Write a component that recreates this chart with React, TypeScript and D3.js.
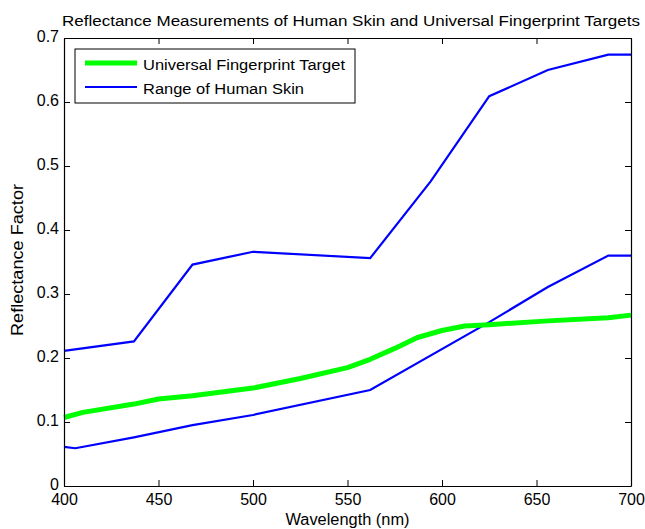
import React, {useEffect, useRef} from 'react'
import * as d3 from 'd3'

// wavelength (nm) vs reflectance
const targetNm = [400, 410, 437, 450, 468, 500, 525, 550, 562, 575, 587, 600, 612, 625, 656, 688, 700]
const targetVal = [0.107, 0.115, 0.128, 0.136, 0.141, 0.153, 0.168, 0.185, 0.198, 0.215, 0.232, 0.243, 0.25, 0.252, 0.258, 0.263, 0.267]

const skinHighNm = [400, 437, 468, 500, 562, 594, 625, 656, 688, 700]
const skinHighVal = [0.211, 0.226, 0.346, 0.366, 0.356, 0.476, 0.609, 0.65, 0.674, 0.674]

const skinLowNm = [400, 406, 437, 468, 500, 562, 625, 656, 688, 700]
const skinLowVal = [0.061, 0.059, 0.076, 0.095, 0.111, 0.15, 0.256, 0.311, 0.36, 0.36]

const xTicks = [400, 450, 500, 550, 600, 650, 700]
const yTicks = [0, 0.1, 0.2, 0.3, 0.4, 0.5, 0.6, 0.7]

const legendLabels = ['Universal Fingerprint Target', 'Range of Human Skin']

const W = 645
const H = 529
const margin = {top: 38, right: 14, bottom: 43, left: 64}
const FONT = '"Liberation Sans", Arial, sans-serif'

export default function App() {
  const svgRef = useRef<SVGSVGElement>(null)

  useEffect(() => {
    const svg = d3.select(svgRef.current)
    svg.selectAll('*').remove()

    const width = W - margin.left - margin.right
    const height = H - margin.top - margin.bottom

    const x = d3.scaleLinear().domain([400, 700]).range([0, width])
    const y = d3.scaleLinear().domain([0, 0.7]).range([height, 0])

    svg.append('rect').attr('width', W).attr('height', H).attr('fill', '#fff')

    const g = svg.append('g').attr('transform', `translate(${margin.left},${margin.top})`)

    const line = d3.line<[number, number]>()
      .x(d => x(d[0]))
      .y(d => y(d[1]))

    const zip = (a: number[], b: number[]) => a.map((v, i) => [v, b[i]] as [number, number])

    g.append('path').datum(zip(skinHighNm, skinHighVal))
      .attr('d', line).attr('fill', 'none').attr('stroke', '#0000ff').attr('stroke-width', 2.2)
    g.append('path').datum(zip(skinLowNm, skinLowVal))
      .attr('d', line).attr('fill', 'none').attr('stroke', '#0000ff').attr('stroke-width', 2.2)
    g.append('path').datum(zip(targetNm, targetVal))
      .attr('d', line).attr('fill', 'none').attr('stroke', '#00ff00').attr('stroke-width', 5)
      .attr('stroke-linejoin', 'round')

    // axes, matlab style: inward ticks on all sides
    const tk = 6
    const bottom = g.append('g').attr('transform', `translate(0,${height})`)
      .call(d3.axisBottom(x).tickValues(xTicks).tickSizeInner(-tk).tickSizeOuter(0).tickPadding(4).tickFormat(d3.format('d')))
    const left = g.append('g')
      .call(d3.axisLeft(y).tickValues(yTicks).tickSizeInner(-tk).tickSizeOuter(0).tickPadding(5).tickFormat(d => String(+d)))
    const top = g.append('g')
      .call(d3.axisTop(x).tickValues(xTicks).tickSizeInner(-tk).tickSizeOuter(0).tickFormat(() => ''))
    const right = g.append('g').attr('transform', `translate(${width},0)`)
      .call(d3.axisRight(y).tickValues(yTicks).tickSizeInner(-tk).tickSizeOuter(0).tickFormat(() => ''))

    ;[bottom, left, top, right].forEach(a => {
      a.selectAll('.domain').attr('stroke', '#000').attr('stroke-width', 1.2)
      a.selectAll('.tick line').attr('stroke', '#000')
      a.selectAll('text').attr('font-family', FONT).attr('font-size', 16).attr('fill', '#000')
    })
    bottom.selectAll('text').attr('dy', '0.95em')
    left.selectAll('text').attr('dy', '0.2em')

    // title and axis labels
    svg.append('text')
      .attr('x', 351).attr('y', 26)
      .attr('text-anchor', 'middle').attr('font-family', FONT).attr('font-size', 15.5)
      .attr('textLength', 578).attr('lengthAdjust', 'spacingAndGlyphs')
      .text('Reflectance Measurements of Human Skin and Universal Fingerprint Targets')
    svg.append('text')
      .attr('x', margin.left + width / 2).attr('y', 525)
      .attr('text-anchor', 'middle').attr('font-family', FONT).attr('font-size', 16)
      .attr('textLength', 124).attr('lengthAdjust', 'spacingAndGlyphs')
      .text('Wavelength (nm)')
    svg.append('text')
      .attr('transform', `translate(23,260) rotate(-90)`)
      .attr('text-anchor', 'middle').attr('font-family', FONT).attr('font-size', 16)
      .attr('textLength', 152).attr('lengthAdjust', 'spacingAndGlyphs')
      .text('Reflectance Factor')

    // legend
    const lg = g.append('g').attr('transform', 'translate(11,11)')
    lg.append('rect').attr('width', 280).attr('height', 54)
      .attr('fill', '#fff').attr('stroke', '#000').attr('stroke-width', 1)
    const legendColors = ['#00ff00', '#0000ff']
    const legendWidths = [5, 2.2]
    const legendLens = [202, 161]
    legendLabels.forEach((lab, i) => {
      const ly = 14 + i * 24
      lg.append('line').attr('x1', 10).attr('x2', 62).attr('y1', ly).attr('y2', ly)
        .attr('stroke', legendColors[i]).attr('stroke-width', legendWidths[i])
      lg.append('text').attr('x', 68).attr('y', ly + 7)
        .attr('font-family', FONT).attr('font-size', 15.5)
        .attr('textLength', legendLens[i]).attr('lengthAdjust', 'spacingAndGlyphs')
        .text(lab)
    })
  }, [])

  return (
    <div style={{position: 'absolute', left: 0, top: 0}}>
      <svg ref={svgRef} width={W} height={H} style={{display: 'block'}} />
    </div>
  )
}
